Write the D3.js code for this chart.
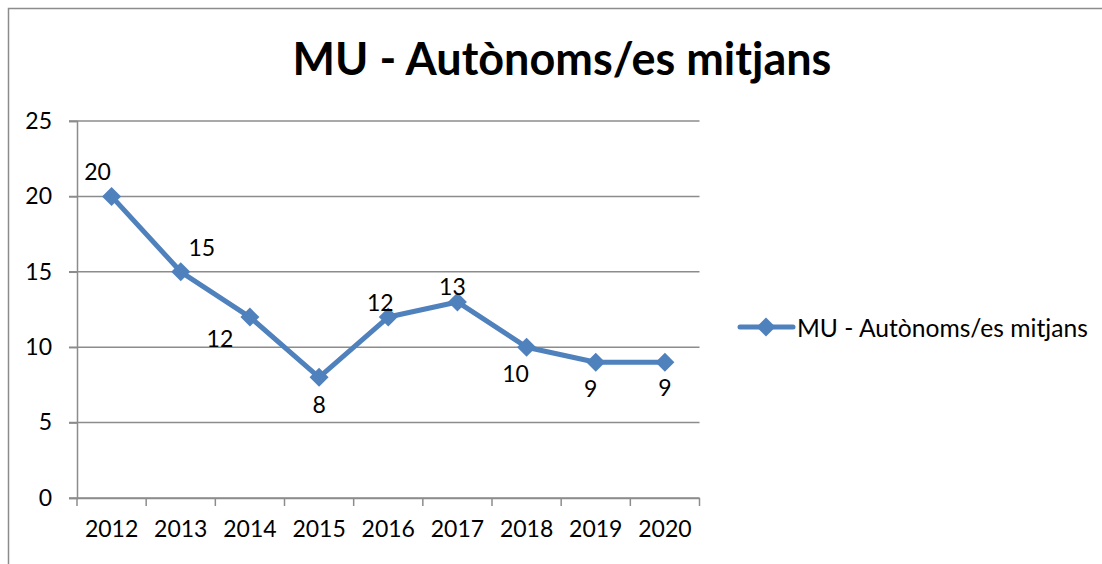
<!DOCTYPE html>
<html><head><meta charset="utf-8">
<script src="https://cdn.jsdelivr.net/npm/d3@7"></script>
<style>
html,body{margin:0;padding:0;background:#fff;}
svg text{font-family:Lato,"Noto Sans",sans-serif;fill:#000;}
</style></head>
<body>
<svg id="chart" width="1102" height="564"></svg>
<script>
const title = "MU - Autònoms/es mitjans";
const seriesName = "MU - Autònoms/es mitjans";
const years = ["2012","2013","2014","2015","2016","2017","2018","2019","2020"];
const values = [20, 15, 12, 8, 12, 13, 10, 9, 9];
const yTicks = [0, 5, 10, 15, 20, 25];
// label offsets (style): where each data label sits relative to its point
const labelOffsets = [[-14,-25],[21,-25],[-30,21],[0,27],[-8,-15],[-5,-16],[-11,26],[-5,26],[0,25]];

(function(){
const svg = d3.select("#chart");
const color = "#4f81bd";
const grid = "#8c8c8c";
const fs = 23;

svg.append("rect").attr("x",8.5).attr("y",8.5).attr("width",1102).attr("height",564)
  .attr("fill","none").attr("stroke","#8c8c8c").attr("stroke-width",1.5);

const pL = 77, pR = 699.5, pT = 121, pB = 498;
const x = d3.scaleBand().domain(years).range([pL, pR]);
const y = d3.scaleLinear().domain([0, 25]).range([pB, pT]);

svg.append("g").selectAll("line").data(yTicks).join("line")
  .attr("x1", pL - 8).attr("x2", pR)
  .attr("y1", d => y(d)).attr("y2", d => y(d))
  .attr("stroke", grid).attr("stroke-width", 1.5);

const yAxis = svg.append("g").attr("transform", `translate(${pL},0)`)
  .call(d3.axisLeft(y).tickValues(yTicks).tickSize(8).tickPadding(17));
yAxis.select(".domain").attr("stroke", grid).attr("stroke-width", 1.5);
yAxis.selectAll(".tick line").attr("stroke", grid).attr("stroke-width", 1.5);
yAxis.selectAll("text").attr("font-size", fs).attr("fill", "#000").attr("font-family", "Lato");

const xAxis = svg.append("g").attr("transform", `translate(0,${pB})`)
  .call(d3.axisBottom(x).tickSize(0).tickPadding(23));
xAxis.select(".domain").attr("stroke", grid).attr("stroke-width", 1.5);
xAxis.selectAll(".tick line").remove();
xAxis.selectAll("text").attr("font-size", fs).attr("fill", "#000").attr("font-family", "Lato");
const bounds = years.map(d => x(d)).concat([x(years[years.length-1]) + x.bandwidth()]);
svg.append("g").selectAll("line").data(bounds).join("line")
  .attr("x1", d => d).attr("x2", d => d).attr("y1", pB).attr("y2", pB + 8)
  .attr("stroke", grid).attr("stroke-width", 1.5);

const cx = (d, i) => x(years[i]) + x.bandwidth() / 2;
const line = d3.line().x((d, i) => cx(d, i)).y(d => y(d));
svg.append("path").datum(values).attr("d", line)
  .attr("fill", "none").attr("stroke", color).attr("stroke-width", 5).attr("stroke-linejoin", "round");

const diamond = d3.symbol().type(d3.symbolSquare).size(180);
svg.append("g").selectAll("path").data(values).join("path")
  .attr("d", diamond)
  .attr("transform", (d, i) => `translate(${cx(d,i)},${y(d)}) rotate(45)`)
  .attr("fill", color);

svg.append("g").selectAll("text").data(values).join("text")
  .attr("x", (d, i) => cx(d, i) + labelOffsets[i][0])
  .attr("y", (d, i) => y(d) + labelOffsets[i][1])
  .attr("text-anchor", "middle").attr("dominant-baseline", "central")
  .attr("font-size", fs).text(d => d);

const t = svg.append("text").attr("x", 562).attr("y", 75).attr("text-anchor", "middle")
  .attr("font-weight", "bold").attr("font-size", 40).text(title);
const tw = t.node().getComputedTextLength();
t.attr("font-size", 40 * 539 / tw);

const ly = 327;
svg.append("line").attr("x1", 740).attr("x2", 793).attr("y1", ly).attr("y2", ly)
  .attr("stroke", color).attr("stroke-width", 5).attr("stroke-linecap", "round");
svg.append("path").attr("d", diamond).attr("transform", `translate(766,${ly}) rotate(45)`).attr("fill", color);
const lt = svg.append("text").attr("x", 797).attr("y", ly).attr("dominant-baseline", "central")
  .attr("font-size", 22).text(seriesName);
const lw = lt.node().getComputedTextLength();
lt.attr("font-size", 22 * 291 / lw);
})();
</script>
</body></html>
